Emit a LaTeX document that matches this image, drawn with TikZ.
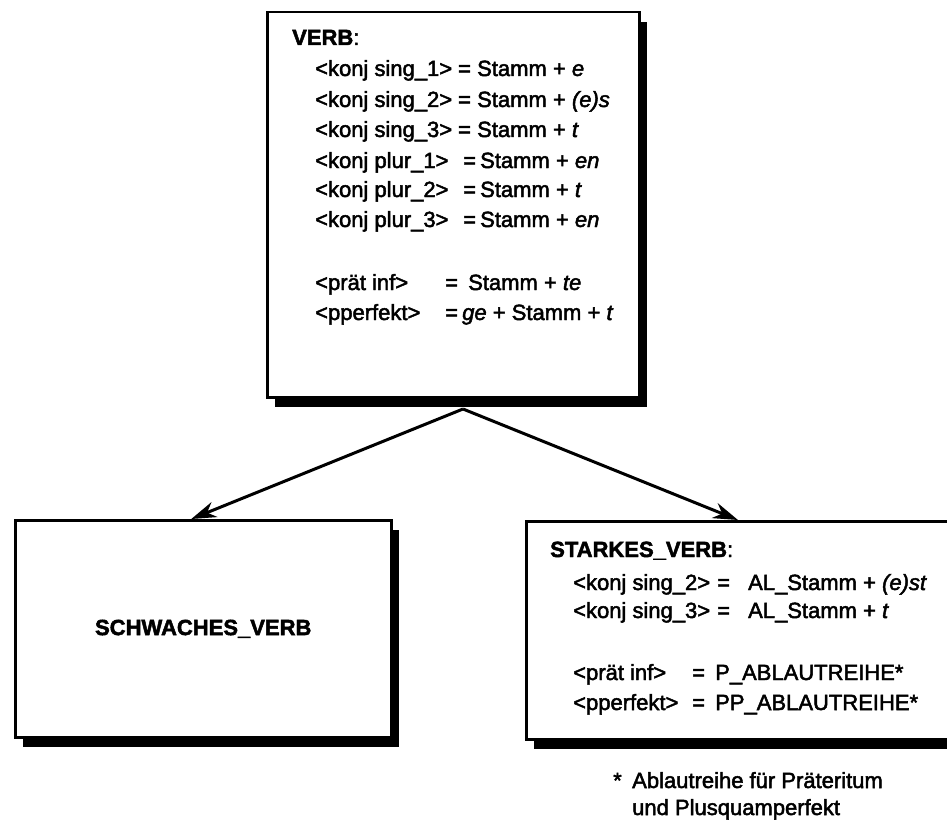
\documentclass[tikz,border=0pt]{standalone}
\usepackage{fontspec}
\setmainfont{Liberation Sans}[FakeBold=2.2]
\usetikzlibrary{arrows.meta,shadows}

% text size used throughout
\newcommand\bodysize{\fontsize{22}{26}\selectfont}
% one feature line: label, "=" and right-hand side at fixed offsets
\newcommand\featrow[4]{\makebox[#1pt][l]{#2}\makebox[#3pt][l]{=}#4}

\begin{document}
\begin{tikzpicture}[x=1pt,y=-1pt,
  box/.style={draw=black, line width=2.5pt, fill=white, inner sep=0pt,
    anchor=north west,
    drop shadow={shadow xshift=8pt, shadow yshift=-10pt, fill=black, opacity=1}},
  txt/.style={anchor=base west, inner sep=0pt, font=\bodysize},
  link/.style={line width=3pt, -{Stealth[length=25pt,width=16pt,inset=8pt]}}]

\clip (0,0) rectangle (947,821);
\fill[white] (0,0) rectangle (947,821);

% type boxes
\node[box, minimum width=372pt, minimum height=385pt] (verb) at (266,11) {};
\node[box, minimum width=376pt, minimum height=217pt, font=\bodysize\bfseries]
  (weak) at (14,519) {SCHWACHES\_VERB};
\node[box, minimum width=440pt, minimum height=218pt] (strong) at (525,520) {};

% VERB contents
\node[txt] (verbhead) at (292,45) {\textbf{VERB}:};
\node[txt] (v1) at (315,76)  {\featrow{143}{<konj sing\_1>}{19}{Stamm + \textit{e}}};
\node[txt] (v2) at (315,107) {\featrow{143}{<konj sing\_2>}{19}{Stamm + \textit{(e)s}}};
\node[txt] (v3) at (315,137) {\featrow{143}{<konj sing\_3>}{19}{Stamm + \textit{t}}};
\node[txt] (v4) at (315,168) {\featrow{148}{<konj plur\_1>}{17}{Stamm + \textit{en}}};
\node[txt] (v5) at (315,197) {\featrow{148}{<konj plur\_2>}{17}{Stamm + \textit{t}}};
\node[txt] (v6) at (315,227) {\featrow{148}{<konj plur\_3>}{17}{Stamm + \textit{en}}};
\node[txt] (v7) at (315,290) {\featrow{130}{<prät inf>}{23}{Stamm + \textit{te}}};
\node[txt] (v8) at (315,320) {\featrow{130}{<pperfekt>}{17}{\textit{ge} + Stamm + \textit{t}}};

% STARKES_VERB contents
\node[txt] (stronghead) at (550,557) {\textbf{STARKES\_VERB}:};
\node[txt] (s1) at (573,590) {\featrow{144}{<konj sing\_2>}{31}{AL\_Stamm + \textit{(e)st}}};
\node[txt] (s2) at (573,618) {\featrow{144}{<konj sing\_3>}{31}{AL\_Stamm + \textit{t}}};
\node[txt] (s3) at (573,680) {\featrow{119}{<prät inf>}{23}{P\_ABLAUTREIHE*}};
\node[txt] (s4) at (573,710) {\featrow{119}{<pperfekt>}{23}{PP\_ABLAUTREIHE*}};

% footnote
\node[txt] (notestar) at (613,788) {*};
\node[txt] (note1) at (632,788) {Ablautreihe für Präteritum};
\node[txt] (note2) at (632,815) {und Plusquamperfekt};

% inheritance arrows
\coordinate (fork) at (463,409);
\draw[link] (fork) -- ([xshift=-12pt]weak.north);
\draw[link] (fork) -- ([xshift=213pt]strong.north west);
\end{tikzpicture}
\end{document}
